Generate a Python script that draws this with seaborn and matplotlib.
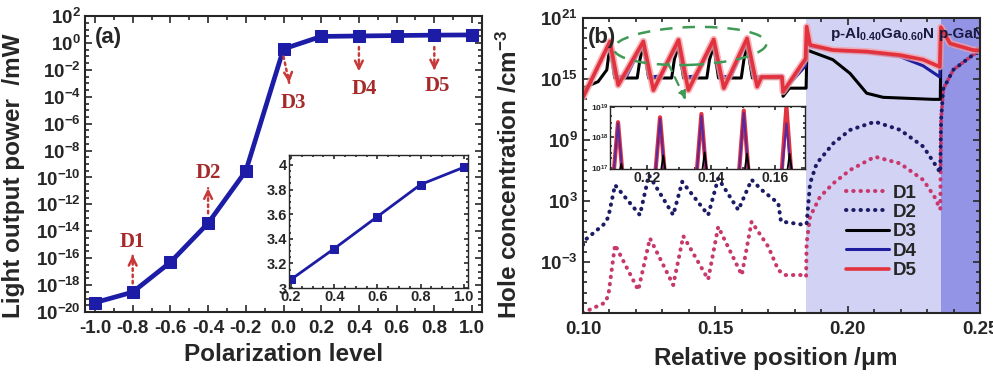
import numpy as np
import pandas as pd
import matplotlib
matplotlib.use("Agg")
import matplotlib.pyplot as plt
import seaborn as sns
from matplotlib.ticker import FixedLocator, FuncFormatter, MultipleLocator, NullFormatter
from matplotlib.patches import Ellipse
from matplotlib.lines import Line2D

# ---------------- data: panel (a) ----------------
polarization = [-1.0, -0.8, -0.6, -0.4, -0.2, 0.0, 0.2, 0.4, 0.6, 0.8, 1.0]
light_power = [5e-20, 3e-19, 5e-17, 4e-14, 3e-10, 0.36, 3.07, 3.32, 3.58, 3.84, 3.98]
inset_pol = [0.2, 0.4, 0.6, 0.8, 1.0]
inset_power = [3.07, 3.32, 3.58, 3.84, 3.98]
device_names = ["D1", "D2", "D3", "D4", "D5"]

# ---------------- data: panel (b)  (log10 of hole concentration) ----------------
x_d1 = [0.1000, 0.1008, 0.1083, 0.1096, 0.1121, 0.1209, 0.1253, 0.1341, 0.1379, 0.1473,
        0.1511, 0.1600, 0.1637, 0.1700, 0.1738, 0.1763, 0.1839, 0.1843, 0.1845, 0.1858,
        0.1895, 0.1946, 0.2009, 0.2103, 0.2198, 0.2286, 0.2336, 0.2343, 0.2350, 0.2353,
        0.2361, 0.2399, 0.2475, 0.2500]
log_d1 = [-8.0, -7.88, -6.99, -6.24, -1.3, -5.75, -0.66, -5.25, -0.44, -4.7,
          0.48, -4.27, 0.97, -1.48, -3.78, -4.27, -4.27, -4.4, -1.1, 1.46,
          3.4, 4.75, 6.05, 7.36, 6.7, 5.07, 3.1, 2.45, 2.2, 11.0,
          14.0, 15.9, 17.4, 17.7]

x_d2 = [0.1000, 0.1008, 0.1083, 0.1096, 0.1121, 0.1215, 0.1249, 0.1341, 0.1375, 0.1473,
        0.1511, 0.1587, 0.1637, 0.1675, 0.1738, 0.1748, 0.1839, 0.1845, 0.1858, 0.1883,
        0.1946, 0.2009, 0.2103, 0.2198, 0.2286, 0.2336, 0.2350, 0.2353, 0.2361, 0.2399,
        0.2475, 0.2500]
log_d2 = [-1.3, -0.83, 0.81, 1.46, 4.58, 1.63, 5.56, 1.63, 4.9, 1.63,
          5.24, 2.12, 5.1, 4.1, 2.78, 1.0, 0.65, 0.81, 4.75, 6.7,
          8.68, 9.99, 10.8, 10.0, 8.35, 6.38, 5.8, 11.0, 14.0, 15.9,
          17.4, 17.7]

x_d3 = [0.1000, 0.1057, 0.1090, 0.1102, 0.1120, 0.1205, 0.1215, 0.1228, 0.1248, 0.1335,
        0.1345, 0.1361, 0.1380, 0.1468, 0.1478, 0.1494, 0.1512, 0.1598, 0.1608, 0.1620,
        0.1640, 0.1752, 0.1756, 0.1780, 0.1843, 0.1846, 0.1944, 0.2009, 0.2072, 0.2134,
        0.2323, 0.2350, 0.2353, 0.2387, 0.2474, 0.2500]
log_d3 = [14.1, 14.74, 15.9, 18.3, 15.1, 15.1, 16.9, 18.3, 15.1, 15.1,
          16.9, 18.3, 15.1, 15.1, 16.9, 18.3, 15.1, 15.1, 16.9, 18.3,
          15.1, 15.1, 13.3, 14.1, 14.1, 17.85, 16.9, 15.55, 13.6, 13.2,
          13.0, 13.0, 19.9, 18.4, 17.8, 17.75]

x_d4 = [0.1000, 0.1102, 0.1125, 0.1165, 0.1228, 0.1252, 0.1295, 0.1361, 0.1385, 0.1430,
        0.1494, 0.1518, 0.1560, 0.1620, 0.1645, 0.1752, 0.1756, 0.1841, 0.1845, 0.1858,
        0.1944, 0.2072, 0.2198, 0.2285, 0.2348, 0.2352, 0.2387, 0.2474, 0.2500]
log_d4 = [13.1, 18.6, 15.2, 15.3, 18.6, 15.2, 15.3, 18.7, 15.2, 15.3,
          18.75, 15.2, 15.3, 18.8, 15.2, 15.3, 13.8, 16.3, 19.6, 18.2,
          17.8, 17.6, 17.2, 16.3, 15.2, 20.0, 18.4, 17.8, 17.75]

x_d5 = [0.1000, 0.1102, 0.1133, 0.1228, 0.1266, 0.1361, 0.1398, 0.1494, 0.1532, 0.1620,
        0.1658, 0.1675, 0.1752, 0.1756, 0.1841, 0.1845, 0.1858, 0.1944, 0.2072, 0.2198,
        0.2285, 0.2348, 0.2352, 0.2387, 0.2474, 0.2500]
log_d5 = [13.2, 18.7, 14.4, 18.7, 13.9, 18.85, 13.9, 18.9, 14.1, 19.0,
          14.25, 15.2, 15.2, 13.75, 17.0, 20.15, 18.35, 17.85, 17.7, 17.35,
          16.9, 16.2, 20.1, 18.5, 17.85, 17.8]

# inset (b): well peaks
ins_x5 = [0.1086, 0.1094, 0.1111, 0.1128, 0.1176, 0.1224, 0.1242, 0.1260, 0.1306, 0.1353,
          0.1371, 0.1389, 0.1437, 0.1485, 0.1503, 0.1521, 0.1570, 0.1618, 0.1636, 0.1654, 0.1694]
ins_log5 = [16.0, 16.4, 18.49, 16.4, 16.0, 16.4, 18.65, 16.4, 16.0, 16.4,
            18.76, 16.4, 16.0, 16.4, 18.87, 16.4, 16.0, 16.4, 19.0, 16.4, 16.0]
ins_x4 = ins_x5
ins_log4 = [16.0, 16.4, 18.45, 16.4, 16.0, 16.4, 18.6, 16.4, 16.0, 16.4,
            18.7, 16.4, 16.0, 16.4, 18.8, 16.4, 16.0, 16.4, 18.45, 16.4, 16.0]
ins_x3 = [0.1086, 0.1110, 0.1121, 0.1132, 0.1180, 0.1241, 0.1252, 0.1263, 0.1310, 0.1370,
          0.1381, 0.1392, 0.1440, 0.1502, 0.1513, 0.1524, 0.1575, 0.1635, 0.1646, 0.1657, 0.1694]
ins_log3 = [16.0, 16.6, 17.12, 16.6, 16.0, 16.6, 17.4, 16.6, 16.0, 16.6,
            17.5, 16.6, 16.0, 16.6, 17.45, 16.6, 16.0, 16.6, 17.45, 16.6, 16.0]

# ---------------- style ----------------
sns.set_theme(style="ticks")
plt.rcParams["font.family"] = ["Liberation Sans", "DejaVu Sans"]
plt.rcParams["font.weight"] = "bold"
plt.rcParams["mathtext.fontset"] = "custom"
plt.rcParams["mathtext.rm"] = "Liberation Sans:bold"
plt.rcParams["mathtext.bf"] = "Liberation Sans:bold"
plt.rcParams["mathtext.it"] = "Liberation Sans:bold"
plt.rcParams["axes.linewidth"] = 1.5

NAVY = "#1c1ca6"
ANN = "#a52a2a"
ARR = "#c83a3a"
C1, C2, C3, C4, C5 = "#c8386c", "#1c1c66", "#000000", "#1e1e9e", "#e2323e"

fig = plt.figure(figsize=(9.93, 3.76), dpi=100)
fig.patch.set_facecolor("white")


def logfmt(v, pos):
    e = int(round(np.log10(v)))
    return r"$\mathbf{10^{%d}}$" % e


def style_ticks(ax, size_major=5, size_minor=3, labelsize=13, pad=3):
    ax.tick_params(which="both", direction="in", top=True, right=True, width=1.2)
    ax.tick_params(which="major", length=size_major, labelsize=labelsize, pad=pad)
    ax.tick_params(which="minor", length=size_minor)
    for lab in ax.get_xticklabels() + ax.get_yticklabels():
        lab.set_fontweight("bold")


# ================= panel (a) =================
axA = fig.add_axes([0.0856, 0.1702, 0.3998, 0.787])
dfA = pd.DataFrame({"pol": polarization, "power": light_power})
sns.lineplot(data=dfA, x="pol", y="power", ax=axA, color=NAVY, lw=3.4, marker="s",
             markersize=8.5, markeredgecolor=NAVY, estimator=None, sort=False)
axA.set_yscale("log")
axA.set_xlim(-1.053, 1.053)
axA.set_ylim(1e-20, 1e2)
axA.yaxis.set_major_locator(FixedLocator(10.0 ** np.arange(-20, 3, 2)))
axA.yaxis.set_minor_locator(FixedLocator(10.0 ** np.arange(-20, 2.01, 0.5)))
axA.yaxis.set_major_formatter(FuncFormatter(logfmt))
axA.yaxis.set_minor_formatter(NullFormatter())
axA.xaxis.set_major_locator(MultipleLocator(0.2))
axA.xaxis.set_minor_locator(MultipleLocator(0.1))
axA.xaxis.set_major_formatter(FuncFormatter(lambda v, p: "%.1f" % v))
style_ticks(axA, labelsize=13.5, pad=3)
axA.tick_params(axis="x", pad=6)
axA.set_xlabel("Polarization level", fontsize=17.5, fontweight="bold")
axA.set_ylabel("Light output power  /mW", fontsize=17.5, fontweight="bold")
axA.xaxis.set_label_coords(0.5, -0.105)
axA.yaxis.set_label_coords(-0.15, 0.46)
axA.text(0.025, 0.926, "(a)", transform=axA.transAxes, fontsize=16, fontweight="bold",
         ha="left", va="center")

# device annotations: (x, tail exponent, head exponent, text x, text exponent)
ann_specs = [(-0.8, -17.87, -15.76, -0.8, -14.77),
             (-0.4, -12.66, -10.8, -0.4, -9.69),
             (0.0, -1.0, -2.96, 0.05, -4.45),
             (0.4, -0.3, -2.1, 0.43, -3.44),
             (0.8, -0.3, -2.03, 0.815, -3.2)]
for name, (xa, e0, e1, xt, et) in zip(device_names, ann_specs):
    xh = xa if name != "D3" else 0.03
    axA.annotate("", xy=(xh, 10 ** e1), xytext=(xa, 10 ** e0),
                 arrowprops=dict(arrowstyle="-", linestyle=(0, (1, 1.5)), color=ARR, lw=1.8,
                                 shrinkA=0, shrinkB=0))
    d = 0.55 if e1 > e0 else -0.55
    axA.annotate("", xy=(xh, 10 ** e1), xytext=(xh - (0.004 if name == "D3" else 0), 10 ** (e1 - d)),
                 arrowprops=dict(arrowstyle="->", color=ARR, lw=1.8, mutation_scale=14,
                                 shrinkA=0, shrinkB=0))
    axA.text(xt, 10 ** et, name, color=ANN, fontsize=15, fontweight="bold",
             family=["Liberation Serif", "DejaVu Serif"], ha="center", va="center")

# inset (a)
axAi = fig.add_axes([0.291, 0.234, 0.1803, 0.3537])
dfAi = pd.DataFrame({"pol": inset_pol, "power": inset_power})
sns.lineplot(data=dfAi, x="pol", y="power", ax=axAi, color=NAVY, lw=2.0, marker="s",
             markersize=6, markeredgecolor=NAVY, estimator=None, sort=False)
axAi.set_xlim(0.19, 1.02)
axAi.set_ylim(3.0, 4.08)
axAi.xaxis.set_major_locator(MultipleLocator(0.2))
axAi.xaxis.set_minor_locator(MultipleLocator(0.05))
axAi.yaxis.set_major_locator(MultipleLocator(0.2))
axAi.yaxis.set_minor_locator(MultipleLocator(0.05))
axAi.xaxis.set_major_formatter(FuncFormatter(lambda v, p: "%.1f" % v))
axAi.yaxis.set_major_formatter(FuncFormatter(lambda v, p: ("%.0f" % v) if abs(v - round(v)) < 1e-6 else "%.1f" % v))
axAi.set_xlabel("")
axAi.set_ylabel("")
for s in axAi.spines.values():
    s.set_linewidth(1.0)
style_ticks(axAi, size_major=3, size_minor=1.5, labelsize=10.5, pad=1.5)

# ================= panel (b) =================
axB = fig.add_axes([0.5871, 0.1676, 0.3998, 0.7846])
axB.axvspan(0.1843, 0.2352, color="#d2d2f4", lw=0, zorder=0)
axB.axvspan(0.2352, 0.25, color="#9494e6", lw=0, zorder=0)

series = [("D1", x_d1, log_d1, C1, (0, (0.1, 1.7)), 2.9),
          ("D2", x_d2, log_d2, C2, (0, (0.1, 1.7)), 2.9),
          ("D3", x_d3, log_d3, C3, "-", 2.2),
          ("D4", x_d4, log_d4, C4, "-", 2.2),
          ("D5", x_d5, log_d5, C5, "-", 2.6)]
for name, xs, ls_, col, sty, lw in series:
    dfb = pd.DataFrame({"x": xs, "conc": 10.0 ** np.array(ls_)})
    if name == "D5":
        sns.lineplot(data=dfb, x="x", y="conc", ax=axB, color="#f4a0a8", lw=5.0,
                     estimator=None, sort=False, alpha=0.8)
    sns.lineplot(data=dfb, x="x", y="conc", ax=axB, color=col, lw=lw, linestyle=sty,
                 dash_capstyle="round", estimator=None, sort=False)

axB.set_yscale("log")
axB.set_xlim(0.10, 0.25)
axB.set_ylim(1e-8, 1e21)
axB.yaxis.set_major_locator(FixedLocator([1e-3, 1e3, 1e9, 1e15, 1e21]))
axB.yaxis.set_minor_locator(FixedLocator(10.0 ** np.arange(-8, 22, 1)))
axB.yaxis.set_major_formatter(FuncFormatter(logfmt))
axB.yaxis.set_minor_formatter(NullFormatter())
axB.xaxis.set_major_locator(MultipleLocator(0.05))
axB.xaxis.set_minor_locator(MultipleLocator(0.01))
axB.xaxis.set_major_formatter(FuncFormatter(lambda v, p: "%.2f" % v))
style_ticks(axB, labelsize=13.5, pad=4)
axB.tick_params(axis="x", pad=6)
axB.set_xlabel(r"Relative position /$\mathbf{\mu}$m", fontsize=17.5, fontweight="bold")
axB.set_ylabel(r"Hole concentration /cm$^{\mathbf{-3}}$", fontsize=17.5, fontweight="bold")
axB.xaxis.set_label_coords(0.484, -0.11)
axB.yaxis.set_label_coords(-0.155, 0.47)
axB.text(0.012, 0.935, "(b)", transform=axB.transAxes, fontsize=16, fontweight="bold",
         ha="left", va="center")
axB.text(0.622, 0.945, r"p-Al$_{\mathbf{0.40}}$Ga$_{\mathbf{0.60}}$N", transform=axB.transAxes,
         fontsize=11, fontweight="bold", ha="left", va="center", color="#1a1a40")
axB.text(0.897, 0.945, "p-GaN", transform=axB.transAxes, fontsize=11, fontweight="bold",
         ha="left", va="center", color="#1a1a40", clip_on=True)

# green dashed ellipse and arrow
ell = Ellipse((0.27, 0.905), 0.385, 0.128, angle=3, transform=axB.transAxes, fill=False,
              edgecolor="#3f9a55", lw=1.8, linestyle=(0, (5, 4)), zorder=6)
axB.add_patch(ell)
axB.annotate("", xy=(0.259, 0.722), xytext=(0.214, 0.847), xycoords="axes fraction",
             arrowprops=dict(arrowstyle="-|>", linestyle=(0, (4, 3)), color="#3f9a55", lw=1.6,
                             mutation_scale=12, shrinkA=0, shrinkB=0), zorder=6)

# legend
handles = [Line2D([], [], color=c, lw=lw, linestyle=s, dash_capstyle="round")
           for (n, xs, ls_, c, s, lw) in series]
leg = axB.legend(handles, device_names, loc="upper left", bbox_to_anchor=(0.63, 0.48),
                 frameon=False, fontsize=13.5, handlelength=2.3, handletextpad=0.2,
                 labelspacing=0.12, borderpad=0.2)
for t in leg.get_texts():
    t.set_fontweight("bold")

# inset (b)
axBi = fig.add_axes([0.6143, 0.5505, 0.1964, 0.1676])
axBi.set_facecolor("white")
for name, xs, ls_, col, lw in [("D5", ins_x5, ins_log5, C5, 3.0),
                               ("D4", ins_x4, ins_log4, "#5a2a9a", 1.5),
                               ("D3", ins_x3, ins_log3, C3, 1.3)]:
    dfi = pd.DataFrame({"x": xs, "conc": 10.0 ** np.array(ls_)})
    sns.lineplot(data=dfi, x="x", y="conc", ax=axBi, color=col, lw=lw, estimator=None, sort=False)
axBi.set_yscale("log")
axBi.set_xlim(0.1086, 0.1694)
axBi.set_ylim(9e16, 1.05e19)
axBi.set_xlabel("")
axBi.set_ylabel("")
axBi.yaxis.set_major_locator(FixedLocator([1e17, 1e18, 1e19]))
axBi.yaxis.set_minor_locator(FixedLocator([2e17, 3e17, 5e17, 2e18, 3e18, 5e18]))
axBi.yaxis.set_major_formatter(FuncFormatter(lambda v, p: r"$10^{%d}$" % int(round(np.log10(v)))))
axBi.yaxis.set_minor_formatter(NullFormatter())
axBi.xaxis.set_major_locator(FixedLocator([0.12, 0.14, 0.16]))
axBi.xaxis.set_minor_locator(MultipleLocator(0.005))
axBi.xaxis.set_major_formatter(FuncFormatter(lambda v, p: "%.2f" % v))
for s in axBi.spines.values():
    s.set_linewidth(1.0)
style_ticks(axBi, size_major=3, size_minor=1.5, labelsize=10, pad=1.5)
axBi.tick_params(axis="y", labelsize=6, pad=1)

fig.savefig("out.png", dpi=100)
